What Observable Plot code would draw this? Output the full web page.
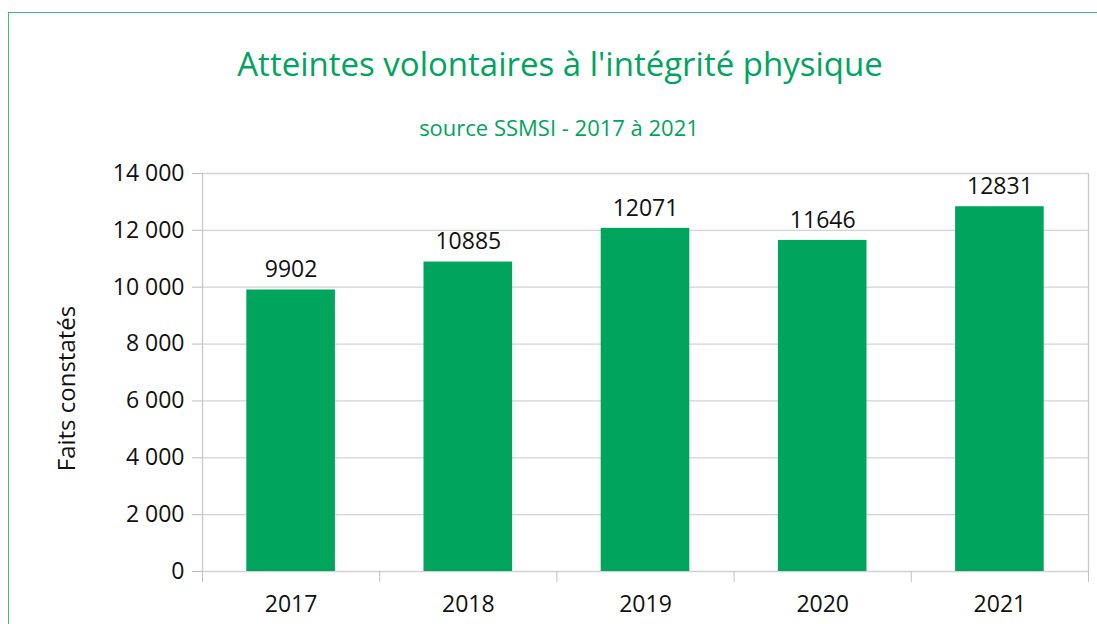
<!DOCTYPE html>
<html>
<head>
<meta charset="utf-8">
<script src="https://cdn.jsdelivr.net/npm/d3@7"></script>
<script src="https://cdn.jsdelivr.net/npm/@observablehq/plot@0.6"></script>
<style>
  body { margin: 0; background: #fff; }
  #wrap { position: relative; width: 1097px; height: 624px; overflow: hidden; font-family: "Open Sans", sans-serif; }
  #frame { position: absolute; left: 8px; top: 12px; width: 1200px; height: 800px; border: 1.5px solid #3dbf7a; }
  #title { position: absolute; left: 0; width: 1120px; top: 44px; text-align: center; font-size: 33px; color: #00a45e; line-height: 1.2; }
  #subtitle { position: absolute; left: 0; width: 1118px; top: 114px; text-align: center; font-size: 22px; color: #00a45e; line-height: 1.2; }
  #chart { position: absolute; left: 0; top: 150px; }
</style>
</head>
<body>
<div id="wrap">
  <div id="frame"></div>
  <div id="title">Atteintes volontaires à l'intégrité physique</div>
  <div id="subtitle">source SSMSI - 2017 à 2021</div>
  <div id="chart"></div>
</div>
<script>
const years = [2017, 2018, 2019, 2020, 2021];
const values = [9902, 10885, 12071, 11646, 12831];
const yTicks = [0, 2000, 4000, 6000, 8000, 10000, 12000, 14000];
const yLabel = "Faits constatés";
const barColor = "#00a55d";

const data = years.map((year, i) => ({year, value: values[i]}));
const boundaries = [years[0] - 0.5, ...years.map(y => y + 0.5)];
const fmt = d => d3.format(",")(d).replace(/,/g, " ");

const chart = Plot.plot({
  width: 1097,
  height: 474,
  marginLeft: 202,
  marginRight: 9,
  marginTop: 23,
  marginBottom: 53,
  style: {fontFamily: "Open Sans, sans-serif", fontSize: "23px", color: "#111"},
  x: {type: "linear", domain: [years[0] - 0.5, years[years.length - 1] + 0.5]},
  y: {domain: [0, 14000]},
  marks: [
    Plot.ruleY(yTicks, {stroke: "#d3d3d3", strokeWidth: 1.3}),
    Plot.ruleX(boundaries.slice(-1), {stroke: "#c8c8c8", strokeWidth: 1.3}),
    Plot.rectY(data, {x1: d => d.year - 0.25, x2: d => d.year + 0.25, y: "value", fill: barColor}),
    Plot.text(data, {x: "year", y: "value", text: d => String(d.value), dy: -20, fontSize: 23, fill: "#111"}),
    Plot.axisY({ticks: yTicks, tickSize: 10, tickPadding: 8, tickFormat: fmt, stroke: "#bdbdbd", fill: "#111", fontSize: 23, label: null}),
    Plot.text([yLabel], {frameAnchor: "left", textAnchor: "middle", rotate: -90, dx: -135, dy: 16, fontSize: 24, fill: "#111"}),
    Plot.ruleX(boundaries.slice(0, 1), {stroke: "#c8c8c8", strokeWidth: 1.3}),
    Plot.axisX({ticks: boundaries, tickSize: 11, tickFormat: () => "", stroke: "#c0c0c0", label: null}),
    Plot.axisX({ticks: years, tickSize: 0, tickPadding: 24, tickFormat: d => String(d), fill: "#111", fontSize: 23, label: null})
  ]
});
document.getElementById("chart").appendChild(chart);
</script>
</body>
</html>
